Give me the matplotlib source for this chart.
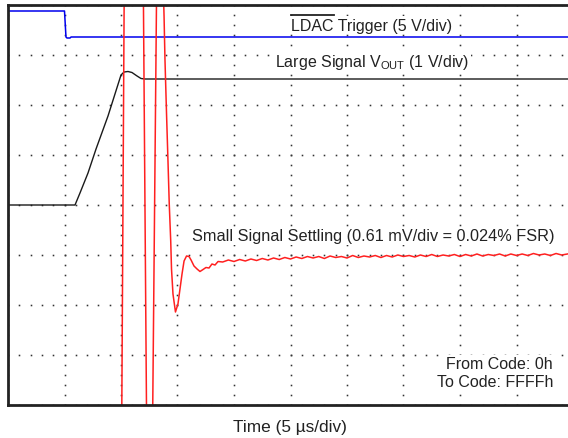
"""
DAC full-scale settling scope capture: LDAC trigger, large-signal VOUT and
small-signal settling traces on an oscilloscope-style dotted graticule.
"""
import numpy as np
import matplotlib
matplotlib.use("Agg")
import matplotlib.pyplot as plt
from matplotlib.lines import Line2D

plt.rcParams["font.family"] = ["Liberation Sans", "DejaVu Sans"]
plt.rcParams["mathtext.fontset"] = "custom"
plt.rcParams["mathtext.rm"] = "Liberation Sans"
plt.rcParams["mathtext.it"] = "Liberation Sans:italic"

# time in us (5 us/div), amplitude in screen divisions (0 = bottom, 8 = top)
ldac_t = [0.0, 5.0, 5.05, 5.13, 5.22, 5.49, 5.58, 49.6]
ldac_v = [7.88, 7.88, 7.68, 7.36, 7.34, 7.34, 7.36, 7.36]

vout_t = [0.0, 5.93, 6.37, 7.08, 7.79, 8.85, 10.0, 10.27, 10.62, 10.97,
          11.42, 11.77, 12.12, 49.6]
vout_v = [4.0, 4.0, 4.24, 4.64, 5.12, 5.78, 6.6, 6.66, 6.67, 6.65,
          6.58, 6.53, 6.52, 6.52]

# small-signal trace: saturated off-screen swings, then ringing and settling
sig_t = [0.0, 10.06, 10.29, 11.97, 12.27, 12.79, 13.16, 13.72, 13.81, 13.89,
         14.03, 14.16, 14.27, 14.40, 14.47, 14.60, 14.82, 15.04, 15.22, 15.40,
         15.58, 15.80, 16.02, 16.20, 16.46, 16.73, 16.99, 17.26, 17.52, 17.79,
         18.05, 18.32, 18.59,
         19.0, 19.5, 20.0, 20.5, 21.0, 21.5, 22.0, 22.5, 23.0, 23.5,
         24.0, 24.5, 25.0, 25.5, 26.0, 26.5, 27.0, 27.5, 28.0, 28.5,
         29.0, 29.5, 30.0, 30.5, 31.0, 31.5, 32.0, 32.5, 33.0, 33.5,
         34.0, 34.5, 35.0, 35.5, 36.0, 36.5, 37.0, 37.5, 38.0, 38.5,
         39.0, 39.5, 40.0, 40.5, 41.0, 41.5, 42.0, 42.5, 43.0, 43.5,
         44.0, 44.5, 45.0, 45.5, 46.0, 46.5, 47.0, 47.5, 48.0, 48.5,
         49.0, 49.5]
sig_v = [-0.48, -0.48, 8.52, 8.52, -0.48, -0.48, 8.52, 8.52, 7.78, 6.92,
         5.82, 4.86, 4.02, 3.28, 2.72, 2.22, 1.86, 2.02, 2.32, 2.62,
         2.88, 2.98, 2.97, 2.90, 2.78, 2.72, 2.67, 2.71, 2.75, 2.74,
         2.82, 2.80, 2.87,
         2.86, 2.90, 2.87, 2.91, 2.88, 2.92, 2.89, 2.93, 2.90, 2.94,
         2.91, 2.95, 2.92, 2.96, 2.93, 2.97, 2.94, 2.97, 2.93, 2.98,
         2.95, 2.97, 2.94, 2.99, 2.95, 2.98, 2.96, 2.99, 2.95, 2.99,
         2.96, 3.00, 2.97, 2.99, 2.96, 3.00, 2.97, 3.01, 2.97, 3.00,
         2.98, 3.01, 2.97, 3.01, 2.98, 3.02, 2.98, 3.01, 2.99, 3.02,
         2.98, 3.02, 2.99, 3.02, 2.99, 3.03, 3.00, 3.02, 2.99, 3.03,
         3.00, 3.02]

US_PER_DIV = 5.0
X_DIVS = 560 / 56.5      # visible part of the 10-division screen
Y_DIVS = 8

W, H = 568, 439
fig = plt.figure(figsize=(W / 100, H / 100), dpi=100)
ax = fig.add_axes([8 / W, 33 / H, 560 / W, 400 / H])
ax.set_xlim(0, X_DIVS * US_PER_DIV)
ax.set_ylim(0, Y_DIVS)
ax.set_xticks([])
ax.set_yticks([])
for side in ("top", "left", "bottom"):
    ax.spines[side].set_color("#222222")
    ax.spines[side].set_linewidth(2.0)
    ax.spines[side].set_zorder(6)
ax.spines["right"].set_visible(False)

# graticule: dotted lines, dots every 1/5 division
_DOT = dict(ls="none", marker="s", ms=1.15, mew=0, color="#333333", zorder=1)
yy = np.arange(0, Y_DIVS + 0.01, 0.2)
for k in range(10):
    ax.plot(np.full(yy.size, k * US_PER_DIV), yy, **_DOT)
xx = np.arange(0, X_DIVS * US_PER_DIV, US_PER_DIV / 5)
for k in range(Y_DIVS + 1):
    ax.plot(xx, np.full(xx.size, k), **_DOT)

ax.plot(ldac_t, ldac_v, color="#0000ee", lw=1.1, zorder=3)
ax.plot(vout_t, vout_v, color="#1a1a1a", lw=1.0, zorder=3)
ax.plot(sig_t, sig_v, color="#ff2020", lw=1.1, zorder=4)

TXT = "#222222"
FS = 11.5
BOX = dict(facecolor="white", edgecolor="none", pad=1.0)


def px(x, y):
    return x / W, 1 - y / H


def label(x, y, s, ha, fs=FS):
    return fig.text(*px(x, y), s, ha=ha, va="center", fontsize=fs,
                    color=TXT, bbox=BOX)


label(291, 26, "LDAC Trigger (5 V/div)", "left")
label(372, 62, r"Large Signal V$_{\mathrm{OUT}}$ (1 V/div)", "center")
label(192, 237, "Small Signal Settling (0.61 mV/div = 0.024% FSR)", "left",
      fs=11.7)
label(553, 365, "From Code: 0h", "right")
label(553, 383, "To Code: FFFFh", "right")
fig.text(*px(290, 428), "Time (5 \u00b5s/div)", ha="center", va="center",
         fontsize=12.4, color=TXT)

# overline over "LDAC", sized from the rendered word
fig.canvas.draw()
r = fig.canvas.get_renderer()
word = fig.text(*px(291, 26), "LDAC", ha="left", va="center", fontsize=FS)
bb = word.get_window_extent(renderer=r)
word.remove()
fig.add_artist(Line2D([bb.x0 / W, bb.x1 / W], [(H - 16) / H] * 2,
                      transform=fig.transFigure, color=TXT, lw=1.3))

fig.savefig("out.png", dpi=100)
